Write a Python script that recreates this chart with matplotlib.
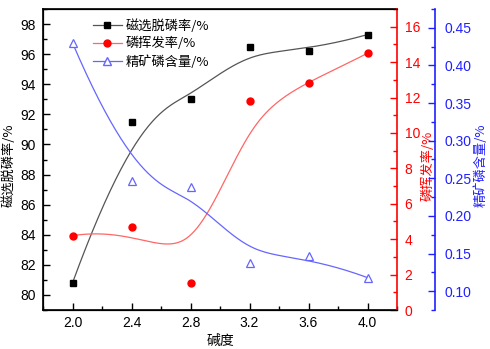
import numpy as np
import matplotlib
matplotlib.use("Agg")
import matplotlib.pyplot as plt
from matplotlib.ticker import MultipleLocator

plt.rcParams['font.family'] = ['Liberation Sans', 'Noto Sans CJK SC', 'DejaVu Sans']

# data
alkalinity = [2.0, 2.4, 2.8, 3.2, 3.6, 4.0]
dephos_rate = [80.8, 91.5, 93.0, 96.5, 96.2, 97.3]      # 磁选脱磷率/%
volatil_rate = [4.2, 4.7, 1.5, 11.8, 12.8, 14.5]        # 磷挥发率/%
conc_p = [0.430, 0.247, 0.238, 0.138, 0.147, 0.118]     # 精矿磷含量/%

cjk = ['Noto Sans CJK SC', 'DejaVu Sans']


def bspline(px, py, num=300, k=3):
    # clamped cubic B-spline with the data points as control points (Origin style)
    px = np.asarray(px, float)
    py = np.asarray(py, float)
    n = len(px)
    t = np.concatenate([np.zeros(k), np.linspace(0, 1, n - k + 1), np.ones(k)])
    u = np.linspace(0, 1 - 1e-9, num)
    N = np.zeros((num, len(t) - 1))
    for i in range(len(t) - 1):
        N[:, i] = (t[i] <= u) & (u < t[i + 1])
    for d in range(1, k + 1):
        for i in range(len(t) - 1 - d):
            a = (u - t[i]) / (t[i + d] - t[i]) if t[i + d] != t[i] else 0
            b = (t[i + d + 1] - u) / (t[i + d + 1] - t[i + 1]) if t[i + d + 1] != t[i + 1] else 0
            N[:, i] = a * N[:, i] + b * N[:, i + 1]
    N = N[:, :n]
    return N @ px, N @ py


fig = plt.figure(figsize=(4.9, 3.49), dpi=100)
ax = fig.add_axes([43 / 490, 1 - 310 / 349, 354 / 490, 301 / 349])
ax2 = ax.twinx()
ax3 = ax.twinx()
ax3.spines['right'].set_position(('axes', 1 + 38 / 354))

blue = '#2020FF'
lblue = '#6666FF'

bx, by = bspline(alkalinity, dephos_rate)
ax.plot(bx, by, color='#555555', lw=0.9)
ax.plot(alkalinity, dephos_rate, 's', color='black', ms=4.5, ls='none')
h1, = ax.plot([], [], color='#555555', lw=0.9, marker='s', mfc='black', mec='black', ms=4.5)

rx, ry = bspline(alkalinity, volatil_rate)
ax2.plot(rx, ry, color='#FF6666', lw=0.9)
ax2.plot(alkalinity, volatil_rate, 'o', color='red', ms=5, ls='none')
h2, = ax2.plot([], [], color='#FF6666', lw=0.9, marker='o', mfc='red', mec='red', ms=5)

cx, cy = bspline(alkalinity, conc_p)
ax3.plot(cx, cy, color=lblue, lw=0.9)
ax3.plot(alkalinity, conc_p, '^', mfc='white', mec=lblue, mew=0.9, ms=6, ls='none')
h3, = ax3.plot([], [], color=lblue, lw=0.9, marker='^', mfc='white', mec=lblue, ms=6)

ax.set_xlim(1.8, 4.2)
ax.set_ylim(79, 99)
ax2.set_ylim(0, 17)
ax3.set_ylim(0.075, 0.475)

ax.xaxis.set_major_locator(MultipleLocator(0.4))
ax.xaxis.set_minor_locator(MultipleLocator(0.2))
ax.yaxis.set_major_locator(MultipleLocator(2))
ax.yaxis.set_minor_locator(MultipleLocator(1))
ax2.yaxis.set_major_locator(MultipleLocator(2))
ax2.yaxis.set_minor_locator(MultipleLocator(1))
ax3.yaxis.set_major_locator(MultipleLocator(0.05))
ax3.yaxis.set_minor_locator(MultipleLocator(0.025))
ax.set_xticks([2.0, 2.4, 2.8, 3.2, 3.6, 4.0])
ax.xaxis.set_major_formatter(plt.FormatStrFormatter('%.1f'))
ax3.yaxis.set_major_formatter(plt.FormatStrFormatter('%.2f'))

for a in (ax, ax2, ax3):
    a.tick_params(which='major', direction='in', length=5, width=1, labelsize=10)
    a.tick_params(which='minor', direction='in', length=3, width=1)
ax.tick_params(top=False, which='both')
ax.tick_params(axis='y', which='major', pad=5)
ax.tick_params(axis='x', which='major', pad=4.5)
ax2.tick_params(axis='y', which='major', pad=5.5)
ax3.tick_params(axis='y', which='major', pad=6.5)

for s in ('left', 'bottom', 'top'):
    ax.spines[s].set_linewidth(1.2)
ax.spines['right'].set_visible(False)
ax2.spines['right'].set_color('red')
ax2.spines['right'].set_linewidth(1.2)
ax2.tick_params(axis='y', which='both', colors='red')
ax3.spines['right'].set_color(blue)
ax3.spines['right'].set_linewidth(1.2)
ax3.tick_params(axis='y', which='both', colors=blue)

ax.set_xlabel('碱度', family=cjk, fontsize=10)
ax.xaxis.set_label_coords(0.5, -0.078)
ax.set_ylabel('磁选脱磷率/%', family=cjk, fontsize=9.5)
ax.yaxis.set_label_coords(-0.076, 0.48)
ax2.set_ylabel('磷挥发率/%', family=cjk, fontsize=9.5, color='red')
ax2.yaxis.set_label_coords(1 + 24 / 354, 0.48)
ax3.set_ylabel('精矿磷含量/%', family=cjk, fontsize=9.5, color=blue)
ax3.yaxis.set_label_coords(1 + 77 / 354, 0.48)

ax.legend([h1, h2, h3], ['磁选脱磷率/%', '磷挥发率/%', '精矿磷含量/%'],
          loc='upper left', bbox_to_anchor=(0.125, 0.985), frameon=False,
          prop={'family': cjk, 'size': 9.5}, handlelength=2.2, handletextpad=0.3,
          labelspacing=0.35, borderaxespad=0)

fig.savefig('out.png', dpi=100)
